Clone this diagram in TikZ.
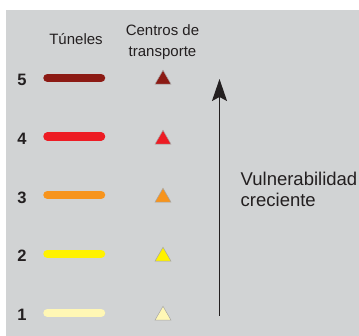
\documentclass[tikz,border=0pt]{standalone}
\usepackage{fontspec}
\setmainfont{Liberation Sans}
\usetikzlibrary{shapes.geometric, arrows.meta, positioning}
\definecolor{panel}{HTML}{D1D3D4}
\definecolor{ink}{HTML}{231F20}
\definecolor{level5}{HTML}{8C1A14}
\definecolor{level4}{HTML}{ED1C24}
\definecolor{level3}{HTML}{F7941D}
\definecolor{level2}{HTML}{FFF200}
\definecolor{level1}{HTML}{FFF7B5}
\tikzset{
    level_num/.style={font=\fontsize{16.5}{16.5}\selectfont\bfseries, text=ink, inner sep=0pt},
    tunnel_bar/.style={line width=8.5pt, line cap=round},
    hub_mark/.style={regular polygon, regular polygon sides=3, minimum size=18.5pt, inner sep=0pt, draw=gray!70, line width=0.5pt},
    header/.style={font=\fontsize{15}{21}\selectfont, align=center, text=ink, inner sep=0pt},
    side_label/.style={font=\fontsize{18.5}{21.5}\selectfont, align=left, text=ink, inner sep=0pt},
    arrow/.style={-{Stealth[length=22pt, width=15pt, inset=4pt]}, line width=1.3pt, ink}
}

\begin{document}
\begin{tikzpicture}[x=1pt, y=-1pt]

    % Panel
    \useasboundingbox (0,0) rectangle (359,336);
    \fill[panel] (6,10) rectangle (359,336);

    % Headers
    \node[header] (tunnels) at (76,39.5) {Túneles};
    \node[header] (hubs) at (162.5,42.5) {Centros de\\transporte};

    % Levels
    \node[level_num] (n5) at (22,80) {5};
    \node[level_num] (n4) at (22,138.5) {4};
    \node[level_num] (n3) at (22,197.5) {3};
    \node[level_num] (n2) at (22,256) {2};
    \node[level_num] (n1) at (22,315) {1};

    % Tunnel bars
    \draw[tunnel_bar, level5] (47.5,78) -- (101,78);
    \draw[tunnel_bar, level4] (47.5,136.5) -- (101,136.5);
    \draw[tunnel_bar, level3] (47.5,195) -- (101,195);
    \draw[tunnel_bar, level2] (47.5,254) -- (101,254);
    \draw[tunnel_bar, level1] (47.5,313) -- (101,313);

    % Transport hubs
    \node[hub_mark, fill=level5] (t5) at (163,79.5) {};
    \node[hub_mark, fill=level4] (t4) at (163,139.5) {};
    \node[hub_mark, fill=level3] (t3) at (163,197.5) {};
    \node[hub_mark, fill=level2] (t2) at (163,256.5) {};
    \node[hub_mark, fill=level1] (t1) at (163,315.5) {};

    % Vulnerability arrow
    \coordinate (arrow_foot) at (219.5,316);
    \coordinate (arrow_tip) at (219.5,79);
    \draw[arrow] (arrow_foot) -- (arrow_tip);

    \node[side_label, anchor=west] (vuln) at (240.5,189.5)
    {Vulnerabilidad\\creciente};

\end{tikzpicture}
\end{document}
